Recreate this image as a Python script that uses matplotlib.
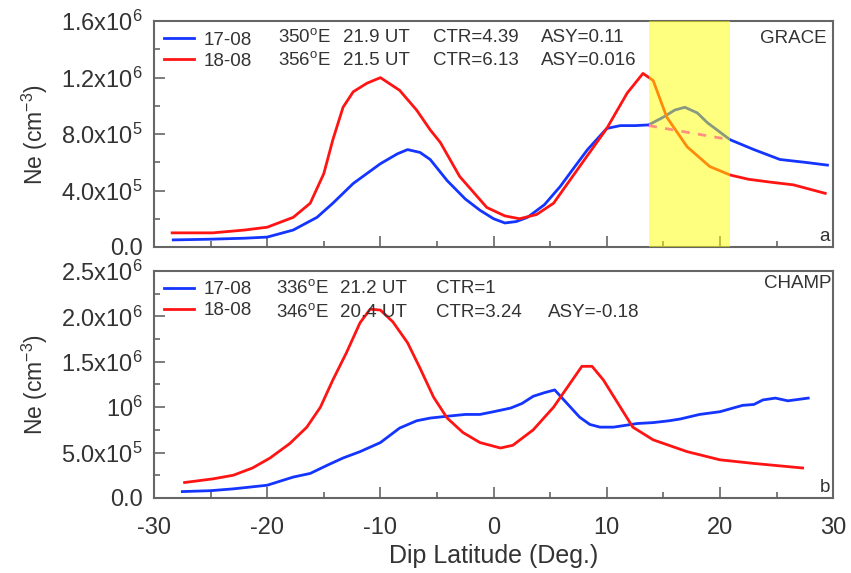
import numpy as np
import matplotlib
matplotlib.use("Agg")
import matplotlib.pyplot as plt
from matplotlib.ticker import MultipleLocator, FixedLocator

plt.rcParams['font.family'] = ['Liberation Sans', 'DejaVu Sans']
plt.rcParams['mathtext.fontset'] = 'custom'
plt.rcParams['mathtext.rm'] = 'Liberation Sans'
plt.rcParams['mathtext.it'] = 'Liberation Sans:italic'
plt.rcParams['mathtext.default'] = 'regular'
plt.rcParams['axes.unicode_minus'] = False

# GRACE (panel a), Ne in units of 1e6 cm^-3
grace_blue_x = [-28.3, -25, -22, -20, -17.7, -15.6, -14.2, -12.4, -10, -8.5, -7.6, -6.5, -5.6, -4.1,
                -2.5, -1.2, 0, 1, 2, 3, 4.5, 5.9, 7, 8.3, 10, 11.2, 12.5, 13.7, 15, 16, 16.9, 18,
                18.9, 20.9, 23, 25.3, 27.5, 29.5]
grace_blue_y = [0.05, 0.055, 0.062, 0.07, 0.12, 0.21, 0.31, 0.45, 0.59, 0.66, 0.69, 0.67, 0.62, 0.47,
                0.34, 0.26, 0.2, 0.17, 0.18, 0.21, 0.30, 0.43, 0.55, 0.69, 0.84, 0.86, 0.86, 0.865,
                0.92, 0.97, 0.99, 0.95, 0.88, 0.76, 0.69, 0.62, 0.60, 0.58]
grace_red_x = [-28.4, -24.8, -22, -20, -17.7, -16.2, -15, -14.2, -13.3, -12.4, -11.2, -10, -8.3, -6.8,
               -5.6, -4.7, -3, -0.6, 1, 2.3, 3.8, 5.3, 7.6, 10, 11.8, 13.2, 14.1, 15.3, 17.1, 19.1,
               20.9, 22.5, 24.4, 26.5, 29.3]
grace_red_y = [0.1, 0.1, 0.12, 0.14, 0.21, 0.31, 0.52, 0.76, 0.99, 1.1, 1.16, 1.2, 1.11, 0.97,
               0.83, 0.74, 0.5, 0.28, 0.22, 0.2, 0.23, 0.31, 0.57, 0.84, 1.09, 1.23, 1.18, 0.92, 0.71,
               0.57, 0.51, 0.48, 0.46, 0.44, 0.38]
baseline_x = [13.7, 20.9]
baseline_y = [0.86, 0.76]
band = (13.7, 20.9)

# CHAMP (panel b)
champ_blue_x = [-27.5, -25, -23, -20, -17.7, -16.2, -14.7, -13.3, -11.8, -10, -8.3, -6.8, -5.6, -4.1,
                -2.5, -1.2, 0, 1.5, 2.5, 3.5, 4.5, 5.4, 6.5, 7.6, 8.5, 9.4, 10.6, 12.7, 14.1, 15.5,
                16.5, 18.2, 20, 22, 23, 23.8, 24.9, 26, 27.8]
champ_blue_y = [0.07, 0.08, 0.1, 0.14, 0.23, 0.27, 0.36, 0.44, 0.51, 0.61, 0.77, 0.85, 0.88, 0.9,
                0.92, 0.92, 0.95, 0.99, 1.04, 1.12, 1.16, 1.19, 1.04, 0.89, 0.81, 0.78, 0.78, 0.82,
                0.83, 0.85, 0.87, 0.92, 0.95, 1.02, 1.03, 1.08, 1.1, 1.07, 1.1]
champ_red_x = [-27.3, -24.8, -23, -21.3, -19.75, -18, -16.5, -15.3, -14.2, -13, -11.8, -10.9, -10,
               -8.9, -7.6, -6.5, -5.3, -4.1, -2.7, -1.2, 0.6, 1.7, 3.5, 5.3, 6.8, 7.8, 8.7, 9.7,
               11.2, 12.3, 14.1, 17.1, 20, 23, 27.3]
champ_red_y = [0.17, 0.21, 0.25, 0.33, 0.44, 0.6, 0.78, 1.0, 1.3, 1.6, 1.93, 2.08, 2.07, 1.94,
               1.71, 1.43, 1.11, 0.88, 0.72, 0.61, 0.55, 0.58, 0.75, 1.0, 1.27, 1.45, 1.45, 1.3,
               1.0, 0.78, 0.64, 0.51, 0.42, 0.38, 0.33]

grace_rows = [["17-08", "350$^{o}$E", "21.9 UT", "CTR=4.39", "ASY=0.11"],
              ["18-08", "356$^{o}$E", "21.5 UT", "CTR=6.13", "ASY=0.016"]]
champ_rows = [["17-08", "336$^{o}$E", "21.2 UT", "CTR=1", ""],
              ["18-08", "346$^{o}$E", "20.4 UT", "CTR=3.24", "ASY=-0.18"]]

top_ticks = [0, 0.4, 0.8, 1.2, 1.6]
top_labels = ["0.0", "4.0x10$^{5}$", "8.0x10$^{5}$", "1.2x10$^{6}$", "1.6x10$^{6}$"]
bot_ticks = [0, 0.5, 1.0, 1.5, 2.0, 2.5]
bot_labels = ["0.0", "5.0x10$^{5}$", "10$^{6}$", "1.5x10$^{6}$", "2.0x10$^{6}$", "2.5x10$^{6}$"]

blue = '#1434ff'
red = '#ff1414'
txt = '#333333'
spine = '#666666'

fig = plt.figure(figsize=(8.51, 5.73), dpi=100)
ax1 = fig.add_axes([0.181, 0.569, 0.798, 0.394])
ax2 = fig.add_axes([0.181, 0.131, 0.798, 0.396])

ax1.plot(grace_blue_x, grace_blue_y, color=blue, lw=2, label="17-08")
ax1.plot(grace_red_x, grace_red_y, color=red, lw=2, label="18-08")
ax1.plot(baseline_x, baseline_y, color='#ff22ff', lw=2, ls=(0, (3, 3)), zorder=2.5)
ax1.axvspan(band[0], band[1], color='#ffff00', alpha=0.5, lw=0, zorder=3)

ax2.plot(champ_blue_x, champ_blue_y, color=blue, lw=2, label="17-08")
ax2.plot(champ_red_x, champ_red_y, color=red, lw=2, label="18-08")

for ax, rows, ylim, ticks, labels, minor, name, letter, rowy, cols, namey, namex in [
        (ax1, grace_rows, 1.6, top_ticks, top_labels, 0.2, "GRACE", "a", [0.929, 0.827],
         [0.183, 0.278, 0.411, 0.570], 0.925, 0.99),
        (ax2, champ_rows, 2.5, bot_ticks, bot_labels, 0.25, "CHAMP", "b", [0.925, 0.819],
         [0.180, 0.274, 0.415, 0.580], 0.947, 0.998)]:
    ax.set_xlim(-30, 30)
    ax.set_ylim(0, ylim)
    ax.xaxis.set_major_locator(MultipleLocator(10))
    ax.xaxis.set_minor_locator(MultipleLocator(5))
    ax.yaxis.set_major_locator(FixedLocator(ticks))
    ax.yaxis.set_minor_locator(MultipleLocator(minor))
    ax.set_yticklabels(labels)
    ax.tick_params(which='both', direction='in', top=False, right=False, colors=spine,
                   labelcolor=txt, labelsize=17)
    ax.tick_params(which='major', length=8, width=1.2)
    ax.tick_params(which='minor', length=4, width=1.2)
    ax.tick_params(axis='y', pad=8)
    ax.tick_params(axis='x', pad=14)
    for s in ax.spines.values():
        s.set_color(spine)
        s.set_linewidth(1.5)
    ax.set_ylabel("Ne (cm$^{-3}$)", fontsize=16.5, color=txt)
    ax.yaxis.set_label_coords(-0.153, 0.5)
    leg = ax.legend(loc='upper left', bbox_to_anchor=(0.0, 1.0), frameon=False, fontsize=13.5,
                    handlelength=1.6, handletextpad=0.5, labelspacing=0.2, borderaxespad=0.15)
    for t in leg.get_texts():
        t.set_color(txt)
    for r, row in enumerate(rows):
        for c, s in enumerate(row[1:]):
            ax.text(cols[c], rowy[r], s, transform=ax.transAxes, fontsize=13.5, color=txt,
                    va='center', ha='left')
    ax.text(namex, namey, name, transform=ax.transAxes, fontsize=13.5,
            color=txt, va='center', ha='right')
    ax.text(0.995, 0.045, letter, transform=ax.transAxes, fontsize=13.5, color=txt,
            va='center', ha='right')

ax1.tick_params(labelbottom=False)
ax2.set_xlabel("Dip Latitude (Deg.)", fontsize=18, color=txt, labelpad=3)

fig.savefig("out.png", dpi=100)
